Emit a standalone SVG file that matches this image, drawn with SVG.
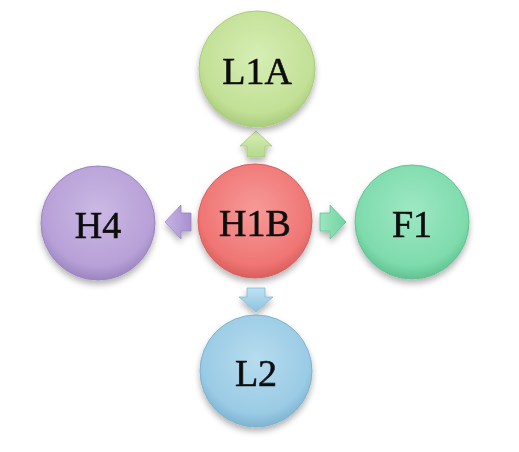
<svg xmlns="http://www.w3.org/2000/svg" width="519" height="452" viewBox="0 0 519 452">
<defs>
<radialGradient id="gG" cx="50%" cy="40%" r="60%"><stop offset="0" stop-color="#d6eeb4"/><stop offset="0.8" stop-color="#c2e096"/><stop offset="1" stop-color="#a9cc7c"/></radialGradient>
<radialGradient id="gR" cx="50%" cy="40%" r="60%"><stop offset="0" stop-color="#f79a98"/><stop offset="0.8" stop-color="#ef7674"/><stop offset="1" stop-color="#d95f5d"/></radialGradient>
<radialGradient id="gB" cx="50%" cy="40%" r="60%"><stop offset="0" stop-color="#b6dcef"/><stop offset="0.8" stop-color="#9acbe5"/><stop offset="1" stop-color="#7fb3d0"/></radialGradient>
<radialGradient id="gP" cx="50%" cy="40%" r="60%"><stop offset="0" stop-color="#cbb9e4"/><stop offset="0.8" stop-color="#b7a0d7"/><stop offset="1" stop-color="#9c86c0"/></radialGradient>
<radialGradient id="gT" cx="50%" cy="40%" r="60%"><stop offset="0" stop-color="#9ee8c4"/><stop offset="0.8" stop-color="#7edbac"/><stop offset="1" stop-color="#62c292"/></radialGradient>
<linearGradient id="aG" x1="0" y1="0" x2="0" y2="1"><stop offset="0" stop-color="#d8efb8"/><stop offset="1" stop-color="#b5d98a"/></linearGradient>
<linearGradient id="aB" x1="0" y1="0" x2="0" y2="1"><stop offset="0" stop-color="#c0e0f2"/><stop offset="1" stop-color="#8cc2e0"/></linearGradient>
<linearGradient id="aP" x1="0" y1="0" x2="1" y2="0"><stop offset="0" stop-color="#c6b4e2"/><stop offset="1" stop-color="#a890cf"/></linearGradient>
<linearGradient id="aT" x1="0" y1="0" x2="1" y2="0"><stop offset="0" stop-color="#9ce6c0"/><stop offset="1" stop-color="#6fd3a2"/></linearGradient>
<filter id="sh" x="-20%" y="-20%" width="140%" height="150%"><feGaussianBlur in="SourceAlpha" stdDeviation="3"/><feOffset dy="4"/><feComponentTransfer><feFuncA type="linear" slope="0.3"/></feComponentTransfer><feMerge><feMergeNode/><feMergeNode in="SourceGraphic"/></feMerge></filter>
</defs>
<style>
.lbl{font-family:"Liberation Serif","DejaVu Serif",serif;font-size:38px;fill:#111;stroke:#111;stroke-width:0.6;text-anchor:middle;dominant-baseline:central}
.ring{stroke-width:1}
</style>
<rect width="519" height="452" fill="#fff"/>
<g id="connectors" filter="url(#sh)">
<path d="M256 131 L272 146 L265 146 L265 157 L247 157 L247 146 L240 146 Z" fill="url(#aG)" stroke="#a3c97a" stroke-width="0.8"/>
<path d="M256 312 L273 297 L265 297 L265 288 L247 288 L247 297 L239 297 Z" fill="url(#aB)" stroke="#86b9d6" stroke-width="0.8"/>
<path d="M165 222 L181 205 L181 213 L191 213 L191 231 L181 231 L181 239 Z" fill="url(#aP)" stroke="#9a84c2" stroke-width="0.8"/>
<path d="M346 222 L330 205 L330 213 L320 213 L320 231 L330 231 L330 239 Z" fill="url(#aT)" stroke="#62c292" stroke-width="0.8"/>
</g>
<g id="L1A" filter="url(#sh)"><circle cx="257" cy="69" r="58" fill="url(#gG)" stroke="#a9cc7c" class="ring"/><text class="lbl" x="257" y="71">L1A</text></g>
<g id="H1B" filter="url(#sh)"><circle cx="255" cy="221" r="57" fill="url(#gR)" stroke="#d95f5d" class="ring"/><text class="lbl" x="255" y="223">H1B</text></g>
<g id="L2" filter="url(#sh)"><circle cx="256" cy="371" r="56" fill="url(#gB)" stroke="#7fb3d0" class="ring"/><text class="lbl" x="256" y="373">L2</text></g>
<g id="H4" filter="url(#sh)"><circle cx="98" cy="223" r="57" fill="url(#gP)" stroke="#9c86c0" class="ring"/><text class="lbl" x="98" y="225">H4</text></g>
<g id="F1" filter="url(#sh)"><circle cx="412" cy="222" r="57" fill="url(#gT)" stroke="#62c292" class="ring"/><text class="lbl" x="412" y="224">F1</text></g>
</svg>
